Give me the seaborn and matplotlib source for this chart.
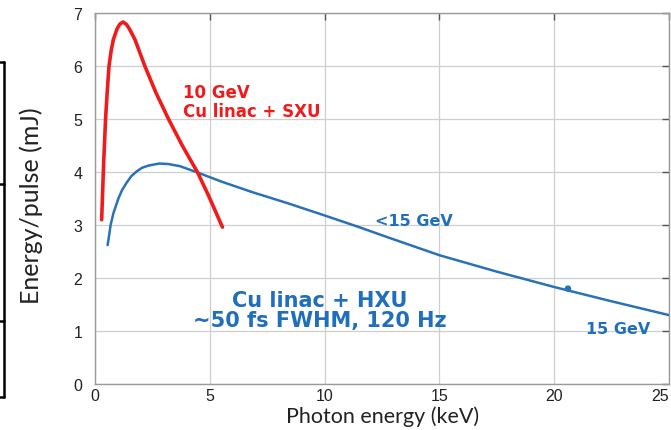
import matplotlib
matplotlib.use("Agg")
import matplotlib.pyplot as plt
from matplotlib.lines import Line2D
import pandas as pd
import seaborn as sns

# Pulse energy vs. photon energy for two undulator lines
sxu_kev = [0.29, 0.33, 0.38, 0.46, 0.53, 0.61, 0.70, 0.80, 0.96, 1.08, 1.22,
           1.36, 1.50, 1.74, 2.17, 2.65, 3.20, 3.80, 4.47, 4.95, 5.55]
sxu_mj = [3.10, 3.60, 4.20, 5.00, 5.50, 6.00, 6.28, 6.50, 6.70, 6.79, 6.83,
          6.79, 6.70, 6.50, 6.00, 5.50, 5.00, 4.50, 3.99, 3.55, 2.96]

hxu_kev = [0.55, 0.62, 0.68, 0.80, 1.01, 1.18, 1.38, 1.58, 1.81, 2.05, 2.32,
           2.80, 3.20, 3.70, 4.47, 5.50, 6.85, 8.40, 10.0, 11.5, 12.87, 15.0,
           17.5, 20.0, 22.5, 25.0]
hxu_mj = [2.62, 2.82, 3.00, 3.22, 3.49, 3.66, 3.80, 3.92, 4.01, 4.08, 4.12,
          4.16, 4.15, 4.11, 3.99, 3.82, 3.62, 3.41, 3.18, 2.96, 2.75, 2.43,
          2.12, 1.83, 1.56, 1.30]

marker_kev = [20.6]
marker_mj = [1.80]

x_ticks = [0, 5, 10, 15, 20, 25]
y_ticks = [0, 1, 2, 3, 4, 5, 6, 7]

RED = "#ee1c1c"
BLUE = "#2a72b6"
BLUE_TXT = "#1f6fbc"

sns.set_theme(style="white")
plt.rcParams["font.family"] = ["Liberation Sans", "DejaVu Sans"]

W, H = 671, 431
fig = plt.figure(figsize=(W / 100, H / 100), dpi=100)
ax = fig.add_axes([95 / W, 1 - 385 / H, (669 - 95) / W, (385 - 14) / H])

sxu = pd.DataFrame({"kev": sxu_kev, "mj": sxu_mj})
hxu = pd.DataFrame({"kev": hxu_kev, "mj": hxu_mj})

sns.lineplot(data=hxu, x="kev", y="mj", ax=ax, color=BLUE, lw=1.8,
             sort=False, estimator=None, zorder=3)
sns.lineplot(data=sxu, x="kev", y="mj", ax=ax, color=RED, lw=2.6,
             sort=False, estimator=None, zorder=4)
sns.scatterplot(x=marker_kev, y=marker_mj, ax=ax, color=BLUE, s=22,
                edgecolor="none", zorder=5)

ax.set_xlim(0, 25)
ax.set_ylim(0, 7)
ax.set_xticks(x_ticks)
ax.set_yticks(y_ticks)
ax.grid(True, color="#cfcfcf", lw=0.9)
ax.set_axisbelow(True)
for s in ax.spines.values():
    s.set_color("#9a9a9a")
    s.set_linewidth(1.0)
    s.set_visible(True)
ax.tick_params(axis="both", which="both", direction="in", length=5,
               width=1, color="#555555", top=True, right=True,
               labelsize=11.5, labelcolor="#222222")
ax.tick_params(axis="x", pad=3)
ax.tick_params(axis="y", pad=9)
# keep the last x tick label inside the figure
last = ax.get_xticklabels()[-1]
last.set_horizontalalignment("right")

ax.set_xlabel("Photon energy (keV)", family=["Lato", "DejaVu Sans"],
              fontsize=15.5, color="#222222")
ax.set_ylabel("Energy/pulse (mJ)", family=["Lato", "DejaVu Sans"],
              fontsize=18, color="#222222")
ax.xaxis.set_label_coords((383 - 95) / 574, (385 - 406) / 371)
ax.yaxis.set_label_coords((43 - 95) / 574, (385 - 206) / 371)

bold = dict(family=["DejaVu Sans"], fontweight="bold")
ax.text(3.84, 5.33, "10 GeV\nCu linac + SXU", color=RED, fontsize=12,
        ha="left", va="center", linespacing=1.05, **bold)
ax.text(13.87, 3.08, "<15 GeV", color=BLUE_TXT, fontsize=11.5,
        ha="center", va="center", **bold)
ax.text(9.8, 1.40, "Cu linac + HXU\n~50 fs FWHM, 120 Hz", color=BLUE_TXT,
        fontsize=15, ha="center", va="center", linespacing=1.0, **bold)
ax.text(22.8, 1.04, "15 GeV", color=BLUE_TXT, fontsize=11.5,
        ha="center", va="center", **bold)

# bracket on the far left edge
def px_line(xs, ys):
    fig.add_artist(Line2D([x / W for x in xs], [1 - y / H for y in ys],
                          transform=fig.transFigure, color="black", lw=1.8))

px_line([4, 4], [63, 398])
for yy in [63, 185, 322, 398]:
    px_line([0, 4], [yy, yy])

fig.savefig("out.png", dpi=100)
